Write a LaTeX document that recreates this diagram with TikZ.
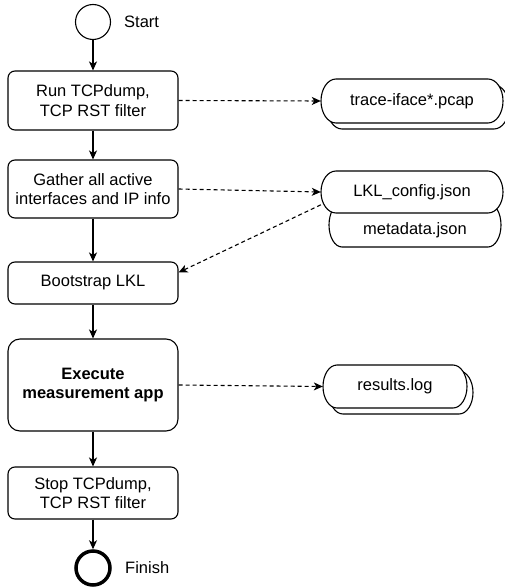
\documentclass[tikz,border=0pt]{standalone}
\usepackage{fontspec}
\setmainfont{Liberation Sans}
\usetikzlibrary{arrows.meta,calc}
% #1 cx, #2 cy, #3 width, #4 height, #5 end x-radius
\newcommand\stadium[5]{%
  \draw[fileline] (#1-#3/2+#5,#2-#4/2) -- (#1+#3/2-#5,#2-#4/2)
    arc[start angle=90,end angle=-90,x radius=#5*1pt,y radius=#4/2*1pt]
    -- (#1-#3/2+#5,#2+#4/2)
    arc[start angle=270,end angle=90,x radius=#5*1pt,y radius=#4/2*1pt] -- cycle;}
\begin{document}
\begin{tikzpicture}[x=1pt,y=-1pt,
  every node/.style={font=\fontsize{16.5}{19.5}\selectfont},
  procbox/.style={draw,line width=1.1pt,rounded corners=7pt,minimum width=170pt,inner sep=0pt,align=center},
  fileline/.style={line width=1.1pt,fill=white},
  filetext/.style={rectangle,inner sep=0pt,align=center},
  flow/.style={line width=1.1pt,-{Stealth[length=9pt,width=8pt,inset=2.5pt]}},
  dflow/.style={line width=1.1pt,dash pattern=on 4pt off 3pt,-{Stealth[length=9pt,width=8pt,inset=2.5pt]}},
  lbl/.style={anchor=west,inner sep=0pt}]
\useasboundingbox (0,0) rectangle (505,588);
% start / finish
\node[draw,circle,line width=1.1pt,minimum size=35pt,inner sep=0pt] (start) at (93,22) {};
\node[lbl] (startlbl) at (124,22) {Start};
\node[draw,circle,line width=3.5pt,minimum size=34pt,inner sep=0pt] (finish) at (93,568) {};
\node[lbl] (finishlbl) at (125,568) {Finish};
% process boxes
\node[procbox,minimum height=59pt] (b1) at (93,100.5) {Run TCPdump,\\TCP RST filter};
\node[procbox,minimum height=58pt] (b2) at (93,189) {Gather all active\\interfaces and IP info};
\node[procbox,minimum height=42pt] (b3) at (93,283) {Bootstrap LKL};
\node[procbox,minimum height=92pt,rounded corners=12pt] (b4) at (93,385) {\bfseries Execute\\\bfseries measurement app};
\node[procbox,minimum height=52pt] (b5) at (93,493) {Stop TCPdump,\\TCP RST filter};
% file shapes (back to front)
\stadium{418}{107}{182}{44}{15}
\stadium{412}{101}{182}{44}{15}
\stadium{415}{225}{172}{44}{13}
\stadium{412}{192}{182}{42}{15}
\stadium{401}{392.5}{144}{43}{14}
\stadium{395}{386.5}{144}{43}{14}
% file texts
\node[filetext,minimum width=182pt,minimum height=44pt] (trace) at (412,101) {trace-iface*.pcap};
\node[filetext] (meta) at (415,230) {metadata.json};
\node[filetext,minimum width=182pt,minimum height=42pt] (lkl) at (412,192) {LKL\_config.json};
\node[filetext,minimum width=144pt,minimum height=43pt] (res) at (395,386.5) {results.log};
% flow
\draw[flow,line width=2.2pt] (start) -- (b1);
\draw[flow] (b1) -- (b2);
\draw[flow] (b2) -- (b3);
\draw[flow] (b3) -- (b4);
\draw[flow] (b4) -- (b5);
\draw[flow] (b5) -- (finish);
% data flows
\draw[dflow] (b1.east) -- (trace.west);
\draw[dflow] (b2.east) -- (lkl.west);
\draw[dflow] (lkl.188) -- (b3.7);
\draw[dflow] (b4.east) -- (res.west);
\end{tikzpicture}
\end{document}
